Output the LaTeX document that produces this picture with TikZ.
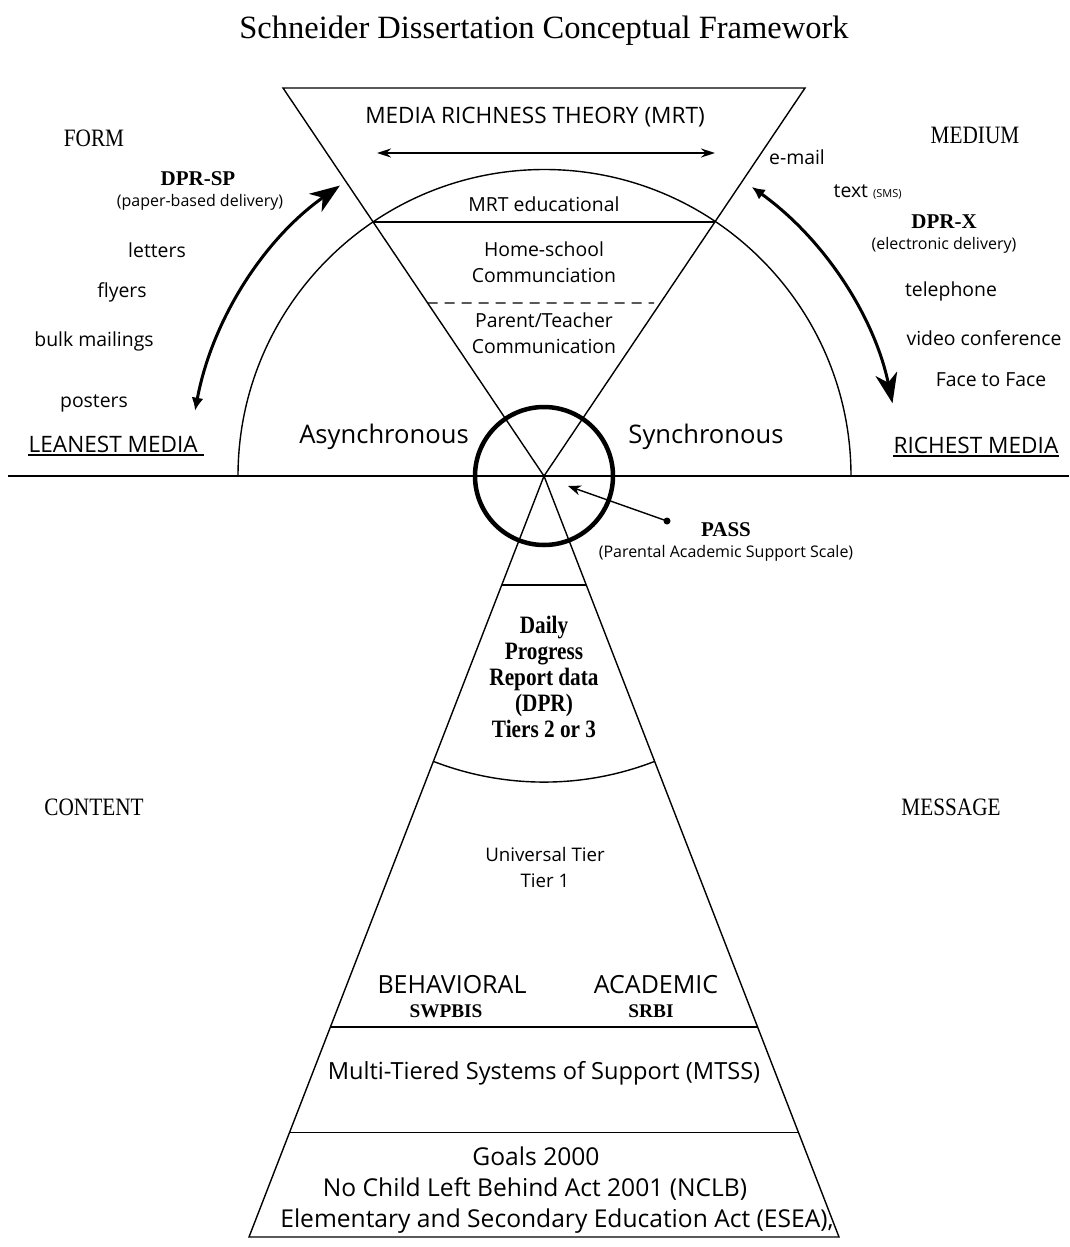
\documentclass[tikz,border=0pt]{standalone}
\usepackage{fontspec}
\setmainfont{Liberation Serif}
\setsansfont{Open Sans}
\newfontfamily\narrowserif{Liberation Serif}[FakeStretch=0.85]
\usetikzlibrary{arrows.meta,calc}

\begin{document}
\begin{tikzpicture}[x=1pt,y=-1pt,line width=1.4pt,
  every node/.style={inner sep=0pt,anchor=base,align=center},
  sfmid/.style={font=\sffamily\fontsize{19.4}{25.5}\selectfont},
  sfsmall/.style={font=\sffamily\fontsize{16}{20}\selectfont},
  sfbig/.style={font=\sffamily\fontsize{22.6}{28}\selectfont},
  sfhuge/.style={font=\sffamily\fontsize{25.6}{30}\selectfont},
  corner/.style={font=\narrowserif\fontsize{25}{30}\selectfont},
  bold/.style={font=\bfseries\fontsize{21}{25}\selectfont}]
\useasboundingbox (0,0) rectangle (1069,1247);

% geometry
\coordinate (apex) at (544,476);
\coordinate (tl) at (283,88);
\coordinate (tr) at (805,88);
\coordinate (bl) at (249,1237);
\coordinate (br) at (839,1237);
\coordinate (axisL) at (8,476);
\coordinate (axisR) at (1069,476);
\coordinate (semiL) at (238,476);
\coordinate (dashR) at (654,303);

\draw (axisL) -- (axisR);
\draw (semiL) arc[start angle=180,end angle=360,radius=306.5];
\draw (tl) -- (tr) -- (apex) -- cycle;
\draw ($(apex)!0.655!(tl)$) -- ($(apex)!0.655!(tr)$);
\draw[line width=1.2pt,dash pattern=on 10pt off 7pt] ($(apex)!0.446!(tl)$) -- (dashR);
\draw (bl) -- (apex) -- (br) -- cycle;
\draw ($(apex)!0.143!(bl)$) -- ($(apex)!0.143!(br)$);
\draw ($(apex)!0.375!(bl)$) arc[start angle=111.2,end angle=68.8,radius=306];
\draw ($(apex)!0.724!(bl)$) -- ($(apex)!0.724!(br)$);
\draw ($(apex)!0.863!(bl)$) -- ($(apex)!0.863!(br)$);
\draw[line width=4.5pt] (apex) circle[radius=69];

% curved arrows
\coordinate (leanA) at ($(apex)+(-169.4:355)$);
\coordinate (richA) at ($(apex)+(-54.3:356)$);
\draw[line width=3pt,{Latex[length=13pt,width=12pt]}-{Stealth[length=30pt,width=22pt,inset=9pt]}] (leanA) arc[start angle=-169.4,end angle=-125.1,radius=355];
\draw[line width=3pt,{Latex[length=13pt,width=12pt]}-{Stealth[length=30pt,width=22pt,inset=9pt]}] (richA) arc[start angle=-54.3,end angle=-11.8,radius=356];

% MRT and PASS arrows
\coordinate (mrtL) at (377,153);
\coordinate (mrtR) at (715,153);
\draw[{Stealth[length=14pt,width=9pt]}-{Stealth[length=14pt,width=9pt]}] (mrtL) -- (mrtR);
\coordinate (passdot) at (667,521);
\coordinate (passtip) at (568,486);
\fill (passdot) circle[radius=3.5];
\draw[-{Stealth[length=13pt,width=10pt]}] (passdot) -- (passtip);

% texts
\node[font=\fontsize{32.5}{38}\selectfont] (title) at (544,38) {Schneider Dissertation Conceptual Framework};
\node[corner] (form) at (94,146) {FORM};
\node[bold] (dprsp) at (198,185) {DPR-SP};
\node[sfsmall] (dprspnote) at (200,206) {(paper-based delivery)};
\node[sfmid] (letters) at (157,257) {letters};
\node[sfmid] (flyers) at (122,297) {flyers};
\node[sfmid] (bulk) at (94,346) {bulk mailings};
\node[sfmid] (posters) at (94,407) {posters};
\node[sfbig,anchor=base west] (lean) at (28,452) {LEANEST MEDIA};
\draw[line width=1.2pt] ([yshift=-3pt]lean.base west) -- ([yshift=-3pt,xshift=6pt]lean.base east);

\node[corner] (medium) at (975,143) {MEDIUM};
\node[sfmid] (email) at (797,164) {e-mail};
\node[sfmid,anchor=base west] (sms) at (833,197) {text {\fontsize{11}{13}\selectfont (SMS)}};
\node[bold] (dprx) at (944,228) {DPR-X};
\node[sfsmall] (dprxnote) at (944,249) {(electronic delivery)};
\node[sfmid] (phone) at (951,296) {telephone};
\node[sfmid] (video) at (984,345) {video conference};
\node[sfmid] (f2f) at (991,386) {Face to Face};
\node[sfbig,anchor=base west] (rich) at (893,453) {RICHEST MEDIA};
\draw[line width=1.2pt] ([yshift=-3pt]rich.base west) -- ([yshift=-3pt]rich.base east);

\node[sfbig] (mrt) at (535,123) {MEDIA RICHNESS THEORY (MRT)};
\node[sfmid] (mrtedu) at (544,211) {MRT educational};
\node[sfmid] (homeschool) at (544,282) {Home-school\\Communciation};
\node[sfmid] (parent) at (544,353) {Parent/Teacher\\Communication};
\node[sfhuge] (async) at (384,443) {Asynchronous};
\node[sfhuge] (sync) at (706,443) {Synchronous};
\node[bold] (pass) at (726,536) {PASS};
\node[sfsmall] (passnote) at (726,557) {(Parental Academic Support Scale)};

\node[font=\narrowserif\bfseries\fontsize{25}{26}\selectfont] (dpr) at (544,737) {Daily\\Progress\\Report data\\(DPR)\\Tiers 2 or 3};
\node[corner] (content) at (94,815) {CONTENT};
\node[corner] (message) at (951,815) {MESSAGE};
\node[sfmid,font=\sffamily\fontsize{18.7}{26}\selectfont] (universal) at (545,887) {Universal Tier\\Tier 1};
\node[sfhuge,font=\sffamily\fontsize{25}{30}\selectfont] (behav) at (452,993) {BEHAVIORAL};
\node[bold,font=\bfseries\fontsize{19.3}{22}\selectfont] (swpbis) at (446,1017) {SWPBIS};
\node[sfhuge,font=\sffamily\fontsize{25}{30}\selectfont] (acad) at (656,993) {ACADEMIC};
\node[bold,font=\bfseries\fontsize{19.3}{22}\selectfont] (srbi) at (651,1017) {SRBI};
\node[sfbig,font=\sffamily\fontsize{23.6}{28}\selectfont] (mtss) at (544,1079) {Multi-Tiered Systems of Support (MTSS)};
\node[sfbig,font=\sffamily\fontsize{24.6}{31}\selectfont] (goals) at (536,1165) {Goals 2000};
\node[sfbig,font=\sffamily\fontsize{24.6}{31}\selectfont] (nclb) at (535,1196) {No Child Left Behind Act 2001 (NCLB)};
\node[sfbig,font=\sffamily\fontsize{24.6}{31}\selectfont] (esea) at (557,1227) {Elementary and Secondary Education Act (ESEA),};
\end{tikzpicture}
\end{document}
